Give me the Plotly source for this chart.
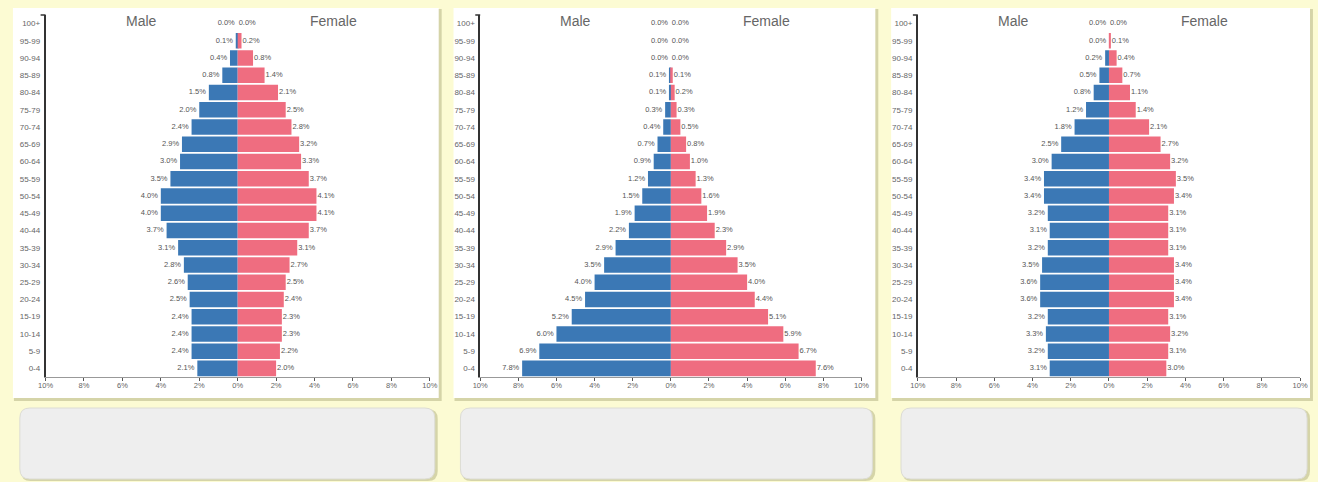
import plotly.graph_objects as go

ages = ["100+", "95-99", "90-94", "85-89", "80-84", "75-79", "70-74", "65-69",
        "60-64", "55-59", "50-54", "45-49", "40-44", "35-39", "30-34", "25-29",
        "20-24", "15-19", "10-14", "5-9", "0-4"]

male_1 = [0.0, 0.1, 0.4, 0.8, 1.5, 2.0, 2.4, 2.9, 3.0, 3.5, 4.0, 4.0, 3.7, 3.1,
          2.8, 2.6, 2.5, 2.4, 2.4, 2.4, 2.1]
female_1 = [0.0, 0.2, 0.8, 1.4, 2.1, 2.5, 2.8, 3.2, 3.3, 3.7, 4.1, 4.1, 3.7, 3.1,
            2.7, 2.5, 2.4, 2.3, 2.3, 2.2, 2.0]

male_2 = [0.0, 0.0, 0.0, 0.1, 0.1, 0.3, 0.4, 0.7, 0.9, 1.2, 1.5, 1.9, 2.2, 2.9,
          3.5, 4.0, 4.5, 5.2, 6.0, 6.9, 7.8]
female_2 = [0.0, 0.0, 0.0, 0.1, 0.2, 0.3, 0.5, 0.8, 1.0, 1.3, 1.6, 1.9, 2.3, 2.9,
            3.5, 4.0, 4.4, 5.1, 5.9, 6.7, 7.6]

male_3 = [0.0, 0.0, 0.2, 0.5, 0.8, 1.2, 1.8, 2.5, 3.0, 3.4, 3.4, 3.2, 3.1, 3.2,
          3.5, 3.6, 3.6, 3.2, 3.3, 3.2, 3.1]
female_3 = [0.0, 0.1, 0.4, 0.7, 1.1, 1.4, 2.1, 2.7, 3.2, 3.5, 3.4, 3.1, 3.1, 3.1,
            3.4, 3.4, 3.4, 3.1, 3.2, 3.1, 3.0]

x_ticks = [-10, -8, -6, -4, -2, 0, 2, 4, 6, 8, 10]
x_tick_labels = ["10%", "8%", "6%", "4%", "2%", "0%", "2%", "4%", "6%", "8%", "10%"]
side_labels = ["Male", "Female"]

W, H = 1318, 482
MALE_C = "#3b78b5"
FEMALE_C = "#ef6d80"
FONT = "Liberation Sans"


def fx(px):
    return px / W


def fy(py):
    return 1 - py / H


panels = [(male_1, female_1), (male_2, female_2), (male_3, female_3)]
x_domains = [(38, 427), (478, 864), (921, 1308)]
y_domain = [fy(377), fy(15)]

fig = go.Figure()

for i, (m, f) in enumerate(panels):
    suffix = "" if i == 0 else str(i + 1)
    xa, ya = "x" + suffix, "y" + suffix
    fig.add_trace(go.Bar(y=ages, x=[-v for v in m], orientation="h",
                         marker=dict(color=MALE_C, line=dict(width=0)),
                         xaxis=xa, yaxis=ya, showlegend=False, hoverinfo="skip"))
    fig.add_trace(go.Bar(y=ages, x=f, orientation="h",
                         marker=dict(color=FEMALE_C, line=dict(width=0)),
                         xaxis=xa, yaxis=ya, showlegend=False, hoverinfo="skip"))
    fig.add_trace(go.Scatter(y=ages, x=[-v - 0.15 for v in m], mode="text",
                             text=[f"{v:.1f}%" for v in m], textposition="middle left",
                             textfont=dict(size=7.5, color="#555", family=FONT),
                             xaxis=xa, yaxis=ya, showlegend=False, hoverinfo="skip"))
    fig.add_trace(go.Scatter(y=ages, x=[v + 0.05 for v in f], mode="text",
                             text=[f"{v:.1f}%" for v in f], textposition="middle right",
                             textfont=dict(size=7.5, color="#555", family=FONT),
                             xaxis=xa, yaxis=ya, showlegend=False, hoverinfo="skip"))
    fig.add_annotation(x=-5, y=fy(21), xref=xa, yref="paper", text=side_labels[0],
                       showarrow=False, xanchor="center", yanchor="middle",
                       font=dict(size=14, color="#666", family=FONT))
    fig.add_annotation(x=5, y=fy(21), xref=xa, yref="paper", text=side_labels[1],
                       showarrow=False, xanchor="center", yanchor="middle",
                       font=dict(size=14, color="#666", family=FONT))

layout = dict(
    width=W, height=H,
    autosize=False,
    margin=dict(l=0, r=0, t=0, b=0),
    paper_bgcolor="#fcfbd3",
    plot_bgcolor="rgba(0,0,0,0)",
    barmode="relative",
    bargap=0.1,
    font=dict(family=FONT, color="#666"),
)

for i, (x0, x1) in enumerate(x_domains):
    suffix = "" if i == 0 else str(i + 1)
    layout["xaxis" + suffix] = dict(
        domain=[fx(x0), fx(x1)], range=[-10, 10], anchor="y" + suffix,
        tickvals=x_ticks, ticktext=x_tick_labels, ticks="outside", ticklen=3,
        tickcolor="#555", tickwidth=1, showline=True, linecolor="#999", linewidth=1,
        showgrid=False, zeroline=False, tickfont=dict(size=7.5, color="#666", family=FONT),
        ticklabelstandoff=-2, fixedrange=True,
    )
    layout["yaxis" + suffix] = dict(
        domain=y_domain, anchor="x" + suffix, type="category",
        categoryorder="array", categoryarray=list(reversed(ages)),
        range=[-0.5, len(ages) - 0.5], autorange=False,
        showline=True, linecolor="#333", linewidth=1.5, ticks="", showgrid=False,
        zeroline=False, tickfont=dict(size=8, color="#666", family=FONT),
        ticklabelstandoff=2, fixedrange=True,
    )

fig.update_layout(**layout)


def rect(x0, y0, x1, y1, fill, layer="below"):
    return dict(type="rect", xref="paper", yref="paper",
                x0=fx(x0), x1=fx(x1), y0=fy(y1), y1=fy(y0),
                fillcolor=fill, line=dict(width=0, color="rgba(0,0,0,0)"),
                layer=layer)


def rounded(x0, y0, x1, y1, r, fill, line):
    X0, X1 = fx(x0), fx(x1)
    Yt, Yb = fy(y0), fy(y1)
    rx, ry = r / W, r / H
    p = (f"M {X0 + rx},{Yt} L {X1 - rx},{Yt} Q {X1},{Yt} {X1},{Yt - ry} "
         f"L {X1},{Yb + ry} Q {X1},{Yb} {X1 - rx},{Yb} "
         f"L {X0 + rx},{Yb} Q {X0},{Yb} {X0},{Yb + ry} "
         f"L {X0},{Yt - ry} Q {X0},{Yt} {X0 + rx},{Yt} Z")
    return dict(type="path", xref="paper", yref="paper", path=p,
                fillcolor=fill, line=dict(color=line, width=1), layer="below")


shapes = []
panel_rects = [(5, 8, 436, 398), (451, 8, 878, 398), (894, 8, 1318, 398)]
box_rects = [(12, 408, 432, 479), (458, 408, 875, 479), (904, 408, 1315, 479)]
for (x0, y0, x1, y1) in panel_rects:
    shapes.append(rect(x0 + 1, y0 + 1, x1 + 3, y1 + 3, "rgba(140,140,90,0.35)"))
    shapes.append(rect(x0, y0, x1, y1, "#ffffff"))
for (x0, y0, x1, y1) in box_rects:
    shapes.append(rounded(x0 + 1, y0 + 1, x1 + 3, y1 + 2, 10, "rgba(140,140,90,0.35)",
                          "rgba(0,0,0,0)"))
    shapes.append(rounded(x0, y0, x1, y1, 10, "#eeeeee", "#dcdcd4"))
# outer end tick at the top of each age axis
for (x0, x1) in x_domains:
    shapes.append(dict(type="line", xref="paper", yref="paper",
                       x0=fx(x0 - 5), x1=fx(x0), y0=fy(15), y1=fy(15),
                       line=dict(color="#333", width=1.5), layer="above"))

fig.update_layout(shapes=shapes)

fig.write_html(
    "out.html",
    config={"responsive": False, "displayModeBar": False},
    post_script="document.body.style.margin='0';document.body.style.overflow='hidden';",
)
